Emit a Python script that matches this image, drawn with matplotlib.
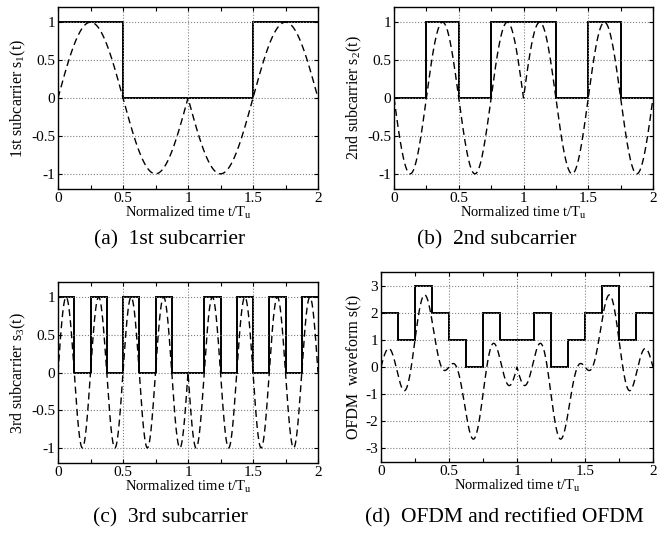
import numpy as np
import matplotlib
matplotlib.use("Agg")
import matplotlib.pyplot as plt
from matplotlib.ticker import MultipleLocator

plt.rcParams['font.family'] = ['Liberation Serif', 'DejaVu Serif']
plt.rcParams['mathtext.fontset'] = 'custom'
plt.rcParams['mathtext.rm'] = 'Liberation Serif'
plt.rcParams['mathtext.it'] = 'Liberation Serif'
plt.rcParams['axes.unicode_minus'] = False
plt.rcParams['font.size'] = 11

# carrier frequency (cycles per T_u) and the bits sent on each half cycle
freqs = [1, 2, 4]
bits_1 = [1, 0, 0, 1]
bits_2 = [0, 1, 0, 1, 1, 0, 1, 0]
bits_3 = [1, 0, 1, 0, 1, 0, 1, 0, 0, 1, 0, 1, 0, 1, 0, 1]
all_bits = [bits_1, bits_2, bits_3]

ylabels = ["1st subcarrier s$_1$(t)", "2nd subcarrier s$_2$(t)",
           "3rd subcarrier s$_3$(t)", "OFDM  waveform s(t)"]
captions = ["(a)  1st subcarrier", "(b)  2nd subcarrier",
            "(c)  3rd subcarrier", "(d)  OFDM and rectified OFDM"]
xlabel = "Normalized time t/T$_\\mathrm{u}$"

t = np.linspace(0, 2, 4001)


def carrier(f, bits):
    # half-wave sign follows the bit: 1 -> up, 0 -> down
    idx = np.minimum((t * 2 * f).astype(int), len(bits) - 1)
    sign = 2 * np.array(bits)[idx] - 1
    return sign * np.abs(np.sin(2 * np.pi * f * t))


waves = [carrier(f, b) for f, b in zip(freqs, all_bits)]
n_fine = len(bits_3)
levels_sum = sum(np.repeat(b, n_fine // len(b)) for b in all_bits)

fig = plt.figure(figsize=(6.65, 5.35), dpi=100)
W, H = 665.0, 535.0
boxes = [(58, 7, 318, 189), (394, 7, 653, 189),
         (58, 282, 318, 463), (381, 272, 653, 462)]
axes = []
for (x0, y0, x1, y1) in boxes:
    axes.append(fig.add_axes([x0 / W, 1 - y1 / H, (x1 - x0) / W, (y1 - y0) / H]))


def style(ax, yticks, ylim):
    ax.set_xlim(0, 2)
    ax.set_ylim(*ylim)
    ax.set_xticks([0, 0.5, 1, 1.5, 2])
    ax.set_xticklabels(["0", "0.5", "1", "1.5", "2"])
    ax.xaxis.set_minor_locator(MultipleLocator(0.25))
    ax.set_yticks(yticks)
    ax.grid(True, which='major', linestyle=':', color='0.5', linewidth=0.8)
    ax.tick_params(which='both', direction='in', top=True, right=True,
                   length=3, width=0.8, pad=2, labelsize=11)
    for s in ax.spines.values():
        s.set_linewidth(1.0)
    ax.set_xlabel(xlabel, labelpad=0, fontsize=10.5)


for i in range(3):
    ax = axes[i]
    b = all_bits[i]
    edges = np.linspace(0, 2, len(b) + 1)
    ax.stairs(b, edges, baseline=None, color='black', linewidth=1.4)
    ax.plot(t, waves[i], color='black', linewidth=1.0, dashes=(5, 3))
    style(ax, [-1, -0.5, 0, 0.5, 1], (-1.2, 1.2))
    ax.set_yticklabels(["-1", "-0.5", "0", "0.5", "1"])
    ax.set_ylabel(ylabels[i], labelpad=2, fontsize=11.5)

ax = axes[3]
edges = np.linspace(0, 2, n_fine + 1)
ax.stairs(levels_sum, edges, baseline=None, color='black', linewidth=1.4)
ax.plot(t, sum(waves), color='black', linewidth=1.0, dashes=(5, 3))
style(ax, [-3, -2, -1, 0, 1, 2, 3], (-3.5, 3.5))
ax.set_ylabel(ylabels[3], labelpad=2, fontsize=11.5)

cap_pos = [(170, 240), (497, 240), (170, 518), (504, 518)]
for (cx, cy), c in zip(cap_pos, captions):
    fig.text(cx / W, 1 - cy / H, c, ha='center', va='center', fontsize=15.5)

fig.savefig("out.png", dpi=100)
